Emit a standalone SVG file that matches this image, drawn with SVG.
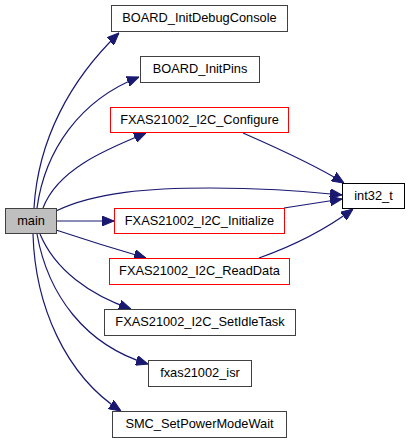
<svg xmlns="http://www.w3.org/2000/svg" width="409" height="443" viewBox="0 0 409 443">
<style>
.n rect{fill:#fff;stroke:#404040;stroke-width:1}
.n.r rect{stroke:#ff0000}
.n.k rect{stroke:#000}
.n.m rect{fill:#bfbfbf}
.n text{font-family:"Liberation Sans",Arial,sans-serif;font-size:12.8px;text-anchor:middle;fill:#000}
.e path{fill:none;stroke:#191970;stroke-width:1.2;marker-end:url(#a)}
</style>
<defs>
<marker id="a" viewBox="0 0 12 10" refX="12" refY="5" markerWidth="12" markerHeight="10" markerUnits="userSpaceOnUse" orient="auto">
<path d="M0,0 L12,5 L0,10 z" fill="#191970" stroke="#191970"/>
</marker>
</defs>
<rect width="409" height="443" fill="#fff"/>
<g id="edges" class="e">
<path d="M34,208 C38,140 70,80 119,33"/>
<path d="M37,208 C45,150 80,100 139,77"/>
<path d="M43,208 C58,168 110,148 146,133"/>
<path d="M56,211 C95,192 150,188 210,188 C265,188 305,191 342,195"/>
<path d="M56,221 L114,221"/>
<path d="M56,230 C80,238 115,249 146,258"/>
<path d="M40,234 C55,270 90,295 131,309"/>
<path d="M37,234 C48,295 85,345 148,364"/>
<path d="M33,234 C35,305 65,375 121,411"/>
<path d="M243,133 C275,147 315,165 344,183"/>
<path d="M284,208 L342,199"/>
<path d="M259,258 C290,247 325,230 353,209"/>
</g>
<g id="main" class="n m"><rect x="5.5" y="208.5" width="51" height="25"/><text x="31" y="225">main</text></g>
<g id="BOARD_InitDebugConsole" class="n"><rect x="111.5" y="5.5" width="176" height="26"/><text x="199.5" y="22">BOARD_InitDebugConsole</text></g>
<g id="BOARD_InitPins" class="n"><rect x="140.5" y="56.5" width="119" height="26"/><text x="200" y="73">BOARD_InitPins</text></g>
<g id="FXAS21002_I2C_Configure" class="n r"><rect x="110.5" y="107.5" width="178" height="25"/><text x="199.5" y="124">FXAS21002_I2C_Configure</text></g>
<g id="int32_t" class="n k"><rect x="342.5" y="183.5" width="62" height="25"/><text x="373.5" y="200">int32_t</text></g>
<g id="FXAS21002_I2C_Initialize" class="n r"><rect x="114.5" y="208.5" width="170" height="25"/><text x="199.5" y="225">FXAS21002_I2C_Initialize</text></g>
<g id="FXAS21002_I2C_ReadData" class="n r"><rect x="109.5" y="258.5" width="180" height="26"/><text x="199.5" y="275">FXAS21002_I2C_ReadData</text></g>
<g id="FXAS21002_I2C_SetIdleTask" class="n"><rect x="104.5" y="309.5" width="191" height="26"/><text x="200" y="326">FXAS21002_I2C_SetIdleTask</text></g>
<g id="fxas21002_isr" class="n"><rect x="148.5" y="360.5" width="103" height="26"/><text x="200" y="377">fxas21002_isr</text></g>
<g id="SMC_SetPowerModeWait" class="n"><rect x="112.5" y="411.5" width="174" height="26"/><text x="199.5" y="428">SMC_SetPowerModeWait</text></g>
</svg>
